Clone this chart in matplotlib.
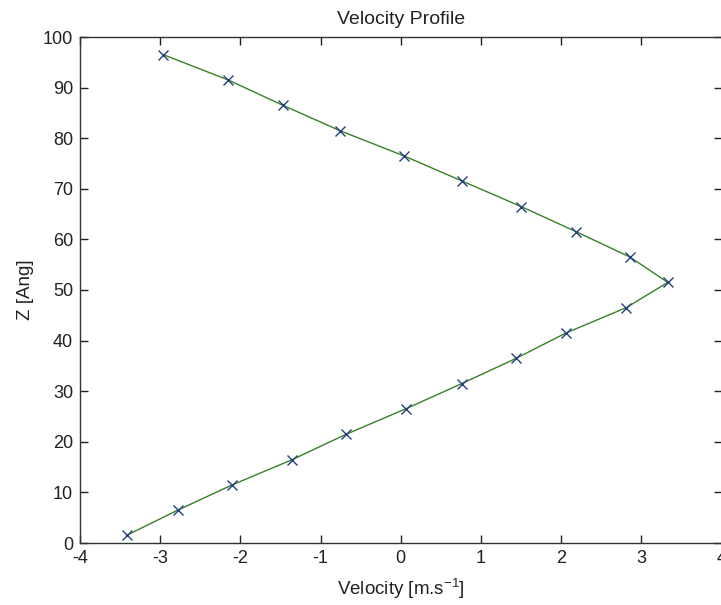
import matplotlib
matplotlib.use("Agg")
import matplotlib.pyplot as plt
import numpy as np

# Height above the bottom wall [Angstrom] and measured velocity [m/s]
z_ang = [1.5, 6.5, 11.5, 16.5, 21.5, 26.5, 31.5, 36.5, 41.5, 46.5,
         51.5, 56.5, 61.5, 66.5, 71.5, 76.5, 81.5, 86.5, 91.5, 96.5]
velocity = [-3.42, -2.78, -2.10, -1.35, -0.68, 0.06, 0.76, 1.44, 2.06, 2.81,
            3.33, 2.86, 2.19, 1.50, 0.77, 0.04, -0.76, -1.47, -2.15, -2.96]

x_ticks = [-4, -3, -2, -1, 0, 1, 2, 3, 4]
y_ticks = [0, 10, 20, 30, 40, 50, 60, 70, 80, 90, 100]

plt.rcParams['font.family'] = ['Liberation Sans', 'DejaVu Sans']
plt.rcParams['mathtext.fontset'] = 'custom'
plt.rcParams['mathtext.rm'] = 'Liberation Sans'

W, H = 721, 605
fig = plt.figure(figsize=(W / 100, H / 100), dpi=100)
fig.patch.set_facecolor('white')
ax = fig.add_axes([80 / W, (H - 543) / H, 641.5 / W, (543 - 37) / H])

ax.plot(velocity, z_ang, color=(0.22, 0.5, 0.15), lw=1.0, zorder=2)
ax.plot(velocity, z_ang, linestyle='none', marker='x', color=(0.15, 0.25, 0.5),
        markersize=6.5, markeredgewidth=1.0, zorder=3)

ax.set_xlim(-4, 4)
ax.set_ylim(0, 100)
ax.set_xticks(x_ticks)
ax.set_yticks(y_ticks)
ax.set_xticklabels([str(v) for v in x_ticks])
ax.set_yticklabels([str(v) for v in y_ticks])
ax.tick_params(direction='in', length=6, width=1, top=True, right=True,
               labelsize=13, colors='#222222', pad=5)
for sp in ax.spines.values():
    sp.set_linewidth(1.0)
    sp.set_color('#333333')

ax.set_title('Velocity Profile', fontsize=14, color='#222222', pad=9)
ax.set_xlabel('Velocity [m.s$^{-1}$]', fontsize=13.5, color='#222222', labelpad=7)
ax.set_ylabel('Z [Ang]', fontsize=13.5, color='#222222', labelpad=6)

fig.savefig('out.png', dpi=100, facecolor='white')
